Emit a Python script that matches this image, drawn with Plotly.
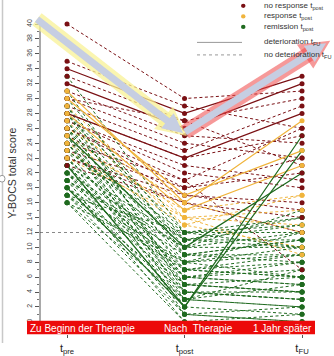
import math
import plotly.graph_objects as go

W, H = 334, 356

# ---------------- data ----------------
times = [1, 2, 3]
time_labels = ["t<sub>pre</sub>", "t<sub>post</sub>", "t<sub>FU</sub>"]
phase_labels = ["Zu Beginn der Therapie", "Nach  Therapie", "1 Jahr später"]

# no response at t_post
pre_nr = [40, 35, 34, 33, 32, 31, 30, 29, 28, 27, 27, 26, 26, 25, 24, 23, 22, 22, 21, 30, 28]
post_nr = [30, 29, 28, 27, 26, 25, 24, 23, 22, 21, 20, 19, 18, 17, 19, 18, 17, 16, 16, 27, 22]
fu_nr = [31, 26, 33, 30, 32, 24, 22, 29, 28, 19, 18, 26, 22, 16, 7, 20, 15, 12, 14, 21, 25]
det_nr = [0, 0, 1, 0, 1, 0, 0, 0, 1, 0, 0, 0, 0, 0, 0, 0, 0, 0, 0, 0, 0]

# response at t_post
pre_r = [31, 30, 29, 28, 27, 26, 25, 24, 23, 22]
post_r = [16, 17, 14, 15, 13, 16, 14, 15, 13, 14]
fu_r = [27, 23, 15, 21, 17, 12, 9, 17, 10, 13]
det_r = [1, 1, 0, 1, 0, 0, 0, 0, 0, 0]

# remission at t_post
pre_g = [33, 30, 29, 28, 28, 27, 26, 26, 25, 25, 24, 24, 23, 23, 22, 22, 21, 21, 20, 20,
         20, 19, 19, 19, 18, 18, 18, 17, 17, 17, 16, 16, 24, 26, 22, 21,
         31, 29, 27, 25, 23, 21, 20, 19, 18, 17, 16, 28]
post_g = [12, 11, 10, 12, 9, 8, 11, 7, 10, 6, 9, 5, 12, 4, 8, 3, 11, 2, 10, 7,
          1, 9, 6, 0, 8, 5, 2, 12, 4, 1, 3, 0, 6, 2, 7, 5,
          9, 4, 3, 1, 11, 6, 4, 10, 3, 7, 8, 5]
fu_g = [14, 11, 15, 13, 9, 12, 10, 6, 20, 8, 11, 4, 12, 3, 9, 2, 13, 25, 10, 8,
        0, 11, 5, 1, 6, 4, 23, 10, 3, 2, 7, 0, 5, 1, 9, 6,
        8, 4, 2, 0, 14, 7, 3, 12, 5, 6, 10, 4]
det_g = [0, 0, 0, 0, 0, 0, 0, 0, 1, 0, 0, 0, 0, 0, 0, 0, 0, 1, 0, 0,
         0, 0, 0, 0, 0, 0, 1, 0, 0, 0, 0, 0, 0, 0, 0, 0,
         0, 0, 0, 0, 0, 0, 0, 0, 0, 0, 0, 0]

legend_labels = ["no response t<sub>post</sub>", "response t<sub>post</sub>",
                 "remission t<sub>post</sub>", "deterioration t<sub>FU</sub>",
                 "no deterioration t<sub>FU</sub>"]

C_NR, C_R, C_G = "#7a1014", "#f0b43c", "#1f6a1f"

groups = [
    ("nr", pre_nr, post_nr, fu_nr, det_nr, C_NR),
    ("r", pre_r, post_r, fu_r, det_r, C_R),
    ("g", pre_g, post_g, fu_g, det_g, C_G),
]

FONT = "Liberation Sans, Arial, sans-serif"


def px(x):
    return x / W


def py(y):
    return 1 - y / H


fig = go.Figure()

# ---- lines: dashed first, then solid ----
for style in (0, 1):
    for name, pre, post, fu, det, col in groups:
        xs, ys = [], []
        for a, b, c, d in zip(pre, post, fu, det):
            if d == style:
                xs += times + [None]
                ys += [a, b, c, None]
        if xs:
            fig.add_trace(go.Scatter(
                x=xs, y=ys, mode="lines", showlegend=False, hoverinfo="skip",
                line=dict(color=col, width=1.2 if style else 1.0,
                          dash="solid" if style else "3px,2.5px")))

# ---- markers ----
for name, pre, post, fu, det, col in [groups[2], groups[0], groups[1]]:
    n = len(pre)
    fig.add_trace(go.Scatter(
        x=[1] * n + [2] * n + [3] * n, y=pre + post + fu, mode="markers",
        showlegend=False, hoverinfo="skip",
        marker=dict(color=col, size=5, line=dict(width=0))))

shapes = []
annotations = []

# left frame line and little circle
shapes.append(dict(type="line", xref="paper", yref="paper", x0=px(2.5), x1=px(2.5),
                   y0=0, y1=1, line=dict(color="#c8c8c8", width=1.5), layer="below"))
shapes.append(dict(type="circle", xref="paper", yref="paper", x0=px(-1), x1=px(5),
                   y0=py(189), y1=py(182), line=dict(color="#999", width=1),
                   fillcolor="white"))

# y axis line 0..40
shapes.append(dict(type="line", xref="paper", yref="y", x0=px(40), x1=px(40), y0=0, y1=40,
                   line=dict(color="#555", width=1)))

# dotted cutoff line at 12
shapes.append(dict(type="line", xref="paper", yref="y", x0=px(40), x1=px(185), y0=12, y1=12,
                   line=dict(color="#888", width=1, dash="dot"), layer="below"))

# red banner
shapes.append(dict(type="rect", xref="paper", yref="paper", x0=px(27), x1=px(315),
                   y0=py(347), y1=py(333), fillcolor="#ec0a0a", line=dict(width=0)))
for txt, xx, anc in zip(phase_labels, [28, 198, 314], ["left", "center", "right"]):
    annotations.append(dict(text=txt, xref="paper", yref="paper", x=px(xx), y=py(340.5),
                            xanchor=anc, yanchor="middle", showarrow=False,
                            font=dict(family=FONT, size=10, color="white")))

# y title
annotations.append(dict(text="Y-BOCS total score", xref="paper", yref="paper",
                        x=px(12), y=py(180), textangle=-90, showarrow=False,
                        xanchor="center", yanchor="middle",
                        font=dict(family=FONT, size=10.5, color="#333")))

# legend
for i, (lab, yy) in enumerate(zip(legend_labels, [6, 17, 28, 44, 57])):
    annotations.append(dict(text=lab, xref="paper", yref="paper", x=px(262), y=py(yy),
                            xanchor="left", yanchor="middle", showarrow=False,
                            font=dict(family=FONT, size=8, color="#333")))
for col, yy in zip([C_NR, C_R, C_G], [6, 17, 28]):
    shapes.append(dict(type="circle", xref="paper", yref="paper",
                       x0=px(241), x1=px(245.5), y0=py(yy + 2.2), y1=py(yy - 2.2),
                       fillcolor=col, line=dict(width=0)))
shapes.append(dict(type="line", xref="paper", yref="paper", x0=px(197), x1=px(242),
                   y0=py(44), y1=py(44), line=dict(color="#999", width=1)))
shapes.append(dict(type="line", xref="paper", yref="paper", x0=px(197), x1=px(242),
                   y0=py(57), y1=py(57), line=dict(color="#999", width=1, dash="dot")))


# arrows
def arrow(S, T, glow, body, hl=20, hw=10, bw=7, gw=15):
    dx, dy = T[0] - S[0], T[1] - S[1]
    L = math.hypot(dx, dy)
    ux, uy = dx / L, dy / L
    nx, ny = -uy, ux
    B = (T[0] - hl * ux, T[1] - hl * uy)

    def path(pts):
        return "M " + " L ".join(f"{px(a):.5f},{py(b):.5f}" for a, b in pts) + " Z"

    out = []
    out.append(dict(type="line", xref="paper", yref="paper", x0=px(S[0]), y0=py(S[1]),
                    x1=px(B[0]), y1=py(B[1]), line=dict(color=glow, width=gw)))
    g = 5
    Tg = (T[0] + g * ux, T[1] + g * uy)
    Bg = (B[0] - g * ux, B[1] - g * uy)
    out.append(dict(type="path", xref="paper", yref="paper",
                    path=path([Tg, (Bg[0] + (hw + g) * nx, Bg[1] + (hw + g) * ny),
                               (Bg[0] - (hw + g) * nx, Bg[1] - (hw + g) * ny)]),
                    fillcolor=glow, line=dict(width=0)))
    out.append(dict(type="line", xref="paper", yref="paper", x0=px(S[0]), y0=py(S[1]),
                    x1=px(B[0] + 1 * ux), y1=py(B[1] + 1 * uy), line=dict(color=body, width=bw)))
    out.append(dict(type="path", xref="paper", yref="paper",
                    path=path([T, (B[0] + hw * nx, B[1] + hw * ny),
                               (B[0] - hw * nx, B[1] - hw * ny)]),
                    fillcolor=body, line=dict(width=0)))
    return out


shapes += arrow((37, 20), (183, 138), "rgba(248,242,150,0.75)", "#c6cee2")
shapes += arrow((185, 137), (326, 45), "rgba(238,70,70,0.55)", "#c6cee2")

fig.update_layout(
    width=W, height=H, margin=dict(l=0, r=0, t=0, b=0),
    paper_bgcolor="white", plot_bgcolor="white",
    showlegend=False, shapes=shapes, annotations=annotations,
    font=dict(family=FONT),
    xaxis=dict(domain=[px(40), px(330)], range=[0.770, 3.238], showgrid=False,
               zeroline=False, showline=False, anchor="free", position=py(347),
               tickvals=times, ticktext=time_labels, ticks="outside", ticklen=3,
               tickcolor="#555", tickfont=dict(family=FONT, size=11, color="#222")),
    yaxis=dict(domain=[py(340), py(20)], range=[-0.777, 40.647], showgrid=False,
               zeroline=False, showline=False, tickvals=list(range(0, 41, 2)),
               ticks="outside", ticklen=4, tickcolor="#555", tickangle=-90,
               tickfont=dict(family=FONT, size=7, color="#444"),
               minor=dict(ticks="outside", ticklen=2, dtick=1, tick0=0, tickcolor="#777")),
)

fig.write_html("out.html")
